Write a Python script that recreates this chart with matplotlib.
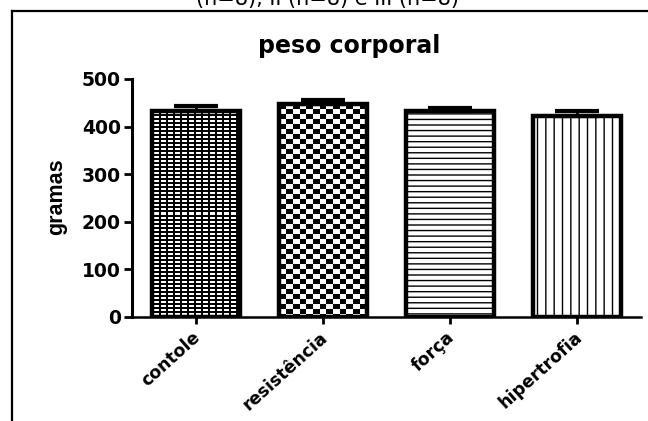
import numpy as np
import matplotlib
matplotlib.use('Agg')
import matplotlib.pyplot as plt
import matplotlib.transforms as mtransforms
from matplotlib.lines import Line2D

# dados do gráfico
grupos = ['contole', 'resistência', 'força', 'hipertrofia']
medias = [433, 447, 433, 423]
epm = [11, 8, 7, 9]

titulo = 'peso corporal'
rotulo_y = 'gramas'
legenda_topo = '(n=8), II (n=8) e III (n=8)'

W, H = 648, 421
fig = plt.figure(figsize=(W / 100, H / 100), dpi=100)
ax = fig.add_axes([132 / W, 1 - 317 / H, 509 / W, 238 / H])

x = np.arange(len(grupos))
largura = 0.69
# fundo branco das barras, textura e depois o contorno por cima
fundo = ax.bar(x, medias, largura, color='white', linewidth=0, zorder=2)
contorno = ax.bar(x, medias, largura, facecolor='none', edgecolor='black',
                  linewidth=3.2, zorder=4)
contorno[2].set_hatch('---')
contorno[3].set_hatch('||')

ax.set_xlim(-0.5, 3.5)
ax.set_ylim(0, 500)

# texturas das duas primeiras barras (quadriculado fino e xadrez)
def textura(barra, tipo):
    x0, y0 = barra.get_x(), 0
    x1, y1 = x0 + barra.get_width(), barra.get_height()
    (px0, py0), (px1, py1) = ax.transData.transform([(x0, y0), (x1, y1)])
    w, h = int(round(px1 - px0)), int(round(py1 - py0))
    yy, xx = np.indices((h, w))
    if tipo == 'fino':
        img = ((xx % 7 >= 2) & (yy % 4 >= 2)).astype(float)
    else:
        img = (((xx / 6.7).astype(int) + (yy / 5).astype(int)) % 2).astype(float)
    im = ax.imshow(img, cmap='gray', vmin=0, vmax=1, extent=(x0, x1, y0, y1),
                   interpolation='nearest', aspect='auto', zorder=3)
    im.set_clip_path(barra)

textura(fundo[0], 'fino')
textura(fundo[1], 'xadrez')
ax.set_aspect('auto')

ax.errorbar(x, medias, yerr=[np.zeros(len(epm)), epm], fmt='none',
            ecolor='black', elinewidth=2, capsize=16, capthick=3, zorder=5)

for lado in ['top', 'right']:
    ax.spines[lado].set_visible(False)
ax.spines['left'].set_linewidth(2.2)
ax.spines['bottom'].set_linewidth(1.8)

ax.set_yticks([0, 100, 200, 300, 400, 500])
ax.tick_params(axis='y', length=6, width=2, pad=2)
ax.tick_params(axis='x', length=5, width=2, pad=3)
ax.set_xticks(x)
ax.set_xticklabels(grupos, rotation=42, ha='right', rotation_mode='anchor',
                   fontsize=12.5, fontweight='bold', family='DejaVu Sans')
desloca = mtransforms.ScaledTranslation(-4 / 100, 0, fig.dpi_scale_trans)
for t in ax.get_xticklabels():
    t.set_transform(t.get_transform() + desloca)
for t in ax.get_yticklabels():
    t.set_fontsize(13.5)
    t.set_fontweight('bold')

fig.text(57 / W, 1 - 197 / H, rotulo_y, rotation=90, ha='center', va='center',
         fontsize=15.5, fontweight='bold', family='Liberation Sans')

fig.text(349 / W, 1 - 46 / H, titulo, ha='center', va='center',
         fontsize=17, fontweight='bold')

fig.text(328 / W, 1 - 5 / H, legenda_topo, ha='center', va='baseline',
         fontsize=15)

# moldura da página
fig.add_artist(Line2D([12 / W, 12 / W], [0, 1 - 11 / H], color='black', lw=1.6))
fig.add_artist(Line2D([12 / W, 1], [1 - 11 / H, 1 - 11 / H], color='black', lw=1.6))

fig.savefig('out.png', dpi=100)
